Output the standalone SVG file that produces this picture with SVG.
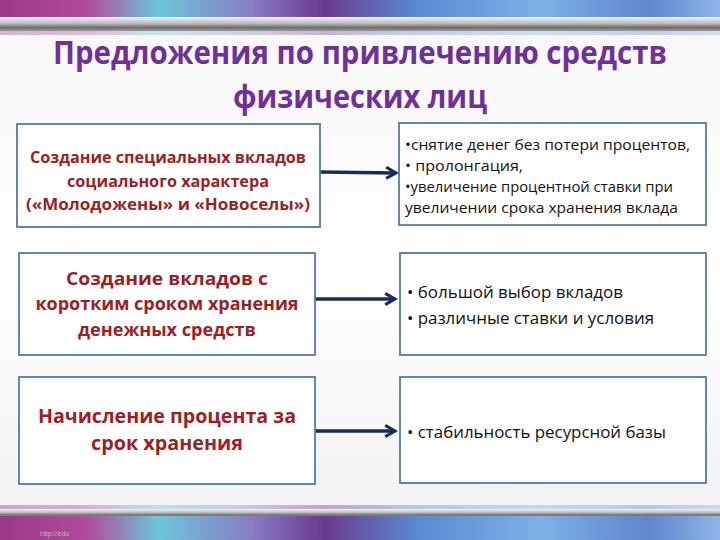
<svg xmlns="http://www.w3.org/2000/svg" width="720" height="540" viewBox="0 0 720 540">
<defs>
<linearGradient id="wc" x1="0" y1="0" x2="1" y2="0">
<stop offset="0" stop-color="#9a3a86"/>
<stop offset="0.12" stop-color="#b04a9a"/>
<stop offset="0.22" stop-color="#6cc6d8"/>
<stop offset="0.35" stop-color="#8a7cc4"/>
<stop offset="0.45" stop-color="#6a3a8e"/>
<stop offset="0.58" stop-color="#5a8ad0"/>
<stop offset="0.75" stop-color="#7eb0e6"/>
<stop offset="0.9" stop-color="#5f86cc"/>
<stop offset="1" stop-color="#8fb4e4"/>
</linearGradient>
<linearGradient id="bar" x1="0" y1="0" x2="0" y2="1">
<stop offset="0" stop-color="#f2f2f2"/>
<stop offset="0.45" stop-color="#bdbdbd"/>
<stop offset="0.75" stop-color="#6e6e6e"/>
<stop offset="1" stop-color="#9a9a9a"/>
</linearGradient>
<linearGradient id="bg" x1="0" y1="0" x2="0" y2="1">
<stop offset="0" stop-color="#f6f6f6"/>
<stop offset="0.5" stop-color="#ffffff"/>
<stop offset="1" stop-color="#f1f1f1"/>
</linearGradient>
<marker id="chev" viewBox="0 0 10 10" refX="8" refY="5" markerWidth="4" markerHeight="4" orient="auto" markerUnits="strokeWidth">
<path d="M1,1 L8,5 L1,9" fill="none" stroke="#1c2a56" stroke-width="2.2"/>
</marker>
<style>
.box{fill:#ffffff;stroke:#557aa3;stroke-width:1.8}
.lt{font-family:"Open Sans","Liberation Sans",sans-serif;font-weight:bold;fill:#a01d24;text-anchor:middle}
.rt{font-family:"Open Sans","Liberation Sans",sans-serif;fill:#111111}
.conn{stroke:#1c2a56;stroke-width:3.5;fill:none;marker-end:url(#chev)}
.title{font-family:"Open Sans","Liberation Sans",sans-serif;font-weight:bold;fill:#70309a;text-anchor:middle;font-size:32px}
</style>
</defs>
<rect x="0" y="0" width="720" height="540" fill="url(#bg)"/>
<rect x="0" y="0" width="720" height="20" fill="url(#wc)"/>
<rect x="0" y="17" width="720" height="14" fill="url(#bar)"/>
<rect x="0" y="31" width="720" height="4" fill="url(#wc)" opacity="0.35"/>
<rect x="0" y="505" width="720" height="6" fill="url(#wc)" opacity="0.4"/>
<rect x="0" y="509" width="720" height="8" fill="url(#bar)"/>
<rect x="0" y="516" width="720" height="24" fill="url(#wc)"/>
<text x="40" y="536" font-family="Liberation Sans, sans-serif" font-size="7" fill="#e8e8f0" opacity="0.6">http://edu</text>

<text class="title" x="360" y="64" textLength="614" lengthAdjust="spacingAndGlyphs">Предложения по привлечению средств</text>
<text class="title" x="360" y="108" textLength="254" lengthAdjust="spacingAndGlyphs">физических лиц</text>

<g id="connectors">
<line class="conn" x1="320" y1="172" x2="396" y2="173"/>
<line class="conn" x1="315" y1="299" x2="395" y2="299"/>
<line class="conn" x1="315" y1="431" x2="395" y2="431"/>
</g>

<g id="n1">
<rect class="box" x="17" y="124" width="303" height="103"/>
<text class="lt" font-size="15.5" x="168" y="163" textLength="276" lengthAdjust="spacingAndGlyphs">Создание специальных вкладов</text>
<text class="lt" font-size="15.5" x="168" y="187" textLength="202" lengthAdjust="spacingAndGlyphs">социального характера</text>
<text class="lt" font-size="15.5" x="168" y="210" textLength="284" lengthAdjust="spacingAndGlyphs">(«Молодожены» и «Новоселы»)</text>
</g>
<g id="n2">
<rect class="box" x="399" y="123" width="307" height="102"/>
<text class="rt" font-size="14" x="405" y="150" textLength="285" lengthAdjust="spacingAndGlyphs">•снятие денег без потери процентов,</text>
<text class="rt" font-size="14" x="405" y="171" textLength="118" lengthAdjust="spacingAndGlyphs">• пролонгация,</text>
<text class="rt" font-size="14" x="405" y="192" textLength="268" lengthAdjust="spacingAndGlyphs">•увеличение процентной ставки при</text>
<text class="rt" font-size="14" x="405" y="213" textLength="273" lengthAdjust="spacingAndGlyphs">увеличении срока хранения вклада</text>
</g>
<g id="n3">
<rect class="box" x="19" y="253" width="296" height="102"/>
<text class="lt" font-size="18" x="167" y="285" textLength="202" lengthAdjust="spacingAndGlyphs">Создание вкладов с</text>
<text class="lt" font-size="18" x="167" y="310" textLength="263" lengthAdjust="spacingAndGlyphs">коротким сроком хранения</text>
<text class="lt" font-size="18" x="167" y="336" textLength="178" lengthAdjust="spacingAndGlyphs">денежных средств</text>
</g>
<g id="n4">
<rect class="box" x="400" y="253" width="306" height="102"/>
<text class="rt" font-size="16" x="407" y="298" textLength="216" lengthAdjust="spacingAndGlyphs">• большой выбор вкладов</text>
<text class="rt" font-size="16" x="407" y="324" textLength="247" lengthAdjust="spacingAndGlyphs">• различные ставки и условия</text>
</g>
<g id="n5">
<rect class="box" x="19" y="377" width="296" height="107"/>
<text class="lt" font-size="20" x="167" y="423" textLength="258" lengthAdjust="spacingAndGlyphs">Начисление процента за</text>
<text class="lt" font-size="20" x="167" y="450" textLength="152" lengthAdjust="spacingAndGlyphs">срок хранения</text>
</g>
<g id="n6">
<rect class="box" x="400" y="377" width="306" height="106"/>
<text class="rt" font-size="16" x="407" y="438" textLength="259" lengthAdjust="spacingAndGlyphs">• стабильность ресурсной базы</text>
</g>
</svg>
